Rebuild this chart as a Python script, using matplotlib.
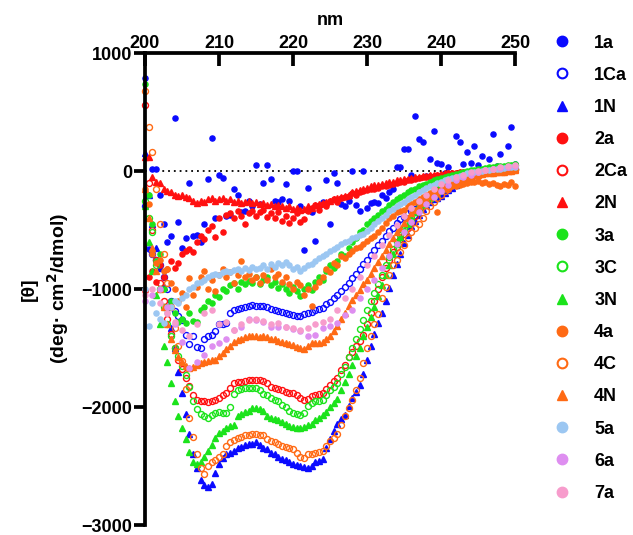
import numpy as np
import matplotlib
matplotlib.use("Agg")
import matplotlib.pyplot as plt
from matplotlib.lines import Line2D

plt.rcParams['font.family'] = ['Liberation Sans', 'DejaVu Sans']
plt.rcParams['font.weight'] = 'bold'

# wavelength grids (nm)
wl_half = np.arange(200, 250.01, 0.5)
wl_one = np.arange(200, 250.01, 1.0)

# ellipticity values, deg cm2/dmol
s_1a = [790, -660, 20, 20, -200, -450, -600, -550, 447, -430,
        -650, -570, -100, -550, -540, -600, -450, -68, 280, -400,
        -30, -60, -380, -370, -150, -200, -350, -340, -250, -300,
        50, -280, -100, 50, -70, -250, -260, -240, -110, -250,
        0, 0, -300, -670, -140, -350, -590, -300, -260, -80,
        -450, -20, -100, -280, -300, -250, 0, -290, -340, 0,
        -310, -270, -260, -270, -200, -230, -180, -150, 30, 30,
        190, 190, -30, 470, 270, 250, -40, 100, 340, 70,
        60, -20, 30, -30, 300, 250, 60, 160, 70, 210,
        50, 130, 20, 100, 310, 40, 140, 0, 210, 370, 60]
s_1Ca = [-300, -640, -700, -755, -800, -900, -1000, -1100, -1190, -1230,
         -1265, -1390, -1470, -1400, -1490, -1500, -1420, -1400, -1390, -1360,
         -1300, -1295, -1290, -1200, -1180, -1170, -1160, -1150, -1140, -1135,
         -1140, -1140, -1145, -1150, -1170, -1180, -1190, -1195, -1200, -1210,
         -1220, -1225, -1225, -1210, -1200, -1195, -1180, -1170, -1160, -1130,
         -1110, -1080, -1050, -1020, -980, -945, -910, -870, -830, -790,
         -750, -710, -670, -630, -590, -550, -510, -480, -440, -410,
         -390, -360, -340, -320, -300, -280, -260, -245, -225, -205,
         -185, -160, -140, -115, -95, -75, -55, -40, -25, -15,
         -5, 0, 5, 5, 10, 5, 10, 15, 10, 15, 20]
s_1N = [150, -200, -450, -650, -820, -980, -1150, -1330, -1500, -1700,
        -1880, -2060, -2230, -2400, -2520, -2620, -2660, -2680, -2650, -2560,
        -2480, -2430, -2400, -2390, -2370, -2350, -2340, -2320, -2310, -2310,
        -2300, -2320, -2350, -2360, -2390, -2400, -2420, -2440, -2450, -2470,
        -2480, -2490, -2500, -2510, -2520, -2500, -2470, -2460, -2440, -2350,
        -2270, -2200, -2140, -2100, -2070, -1990, -1920, -1870, -1810, -1720,
        -1600, -1480, -1380, -1290, -1200, -1100, -990, -880, -790, -700,
        -610, -540, -470, -420, -370, -320, -290, -260, -240, -225,
        -210, -190, -160, -140, -120, -90, -70, -55, -40, -30,
        -20, -15, -10, -5, 0, 5, 0, 10, 5, 10, 15]
s_2a = [-1020, -900, -850, -940, -800, -900, -830, -760, -820, -780,
        -700, -680, -660, -690, -600, -550, -580, -500, -470, -560,
        -400, -520, -370, -360, -400, -340, -380, -450, -360, -340,
        -380, -350, -330, -390, -360, -400, -350, -420, -380, -440,
        -400, -360, -430, -410, -340, -310, -290, -330, -280, -300,
        -250, -240, -260, -230, -220, -210, -190, -200, -180, -170,
        -160, -150, -150, -140, -130, -125, -120, -110, -100, -95,
        -90, -80, -75, -70, -60, -55, -50, -45, -40, -35,
        -30, -25, -20, -20, -15, -10, -10, -5, 0, 0,
        5, 0, 5, 10, 5, 10, 10, 5, 15, 10, 15]
s_2Ca = [560, -100, -500, -750, -950, -1100, -1250, -1380, -1500, -1600,
         -1680, -1750, -1820, -1900, -1940, -1950, -1950, -1960, -1950, -1940,
         -1920, -1900, -1880, -1840, -1800, -1790, -1790, -1780, -1770, -1770,
         -1770, -1775, -1780, -1800, -1830, -1840, -1850, -1860, -1870, -1880,
         -1880, -1900, -1920, -1940, -1930, -1910, -1900, -1890, -1880, -1850,
         -1810, -1780, -1750, -1690, -1640, -1580, -1530, -1480, -1440, -1390,
         -1300, -1200, -1100, -1000, -900, -820, -750, -690, -640, -580,
         -530, -480, -430, -380, -330, -290, -250, -220, -190, -160,
         -140, -120, -100, -85, -70, -55, -45, -35, -25, -15,
         -10, -5, 0, 5, 0, 10, 5, 15, 10, 20, 20]
s_2N = [120, 118, -50, -93, -100, -150, -170, -180, -200, -210,
        -200, -220, -230, -250, -270, -250, -260, -240, -230, -250,
        -240, -230, -250, -240, -260, -250, -270, -260, -250, -270,
        -260, -280, -270, -290, -280, -300, -290, -300, -310, -300,
        -320, -310, -330, -320, -300, -310, -290, -280, -270, -260,
        -250, -240, -230, -220, -210, -200, -180, -170, -160, -150,
        -140, -130, -120, -115, -110, -100, -95, -90, -80, -75,
        -70, -65, -60, -55, -50, -45, -40, -35, -30, -30,
        -25, -20, -20, -15, -15, -10, -10, -5, -5, 0,
        0, 5, 0, 5, 10, 5, 10, 15, 10, 15, 15]
s_3a = [735, -200, -450, -760, -700, -1000, -1150, -1100, -1200, -1280,
        -1250, -1290, -1200, -1270, -1280, -1180, -1150, -1100, -1120, -1050,
        -1070, -1000, -1020, -970, -950, -1000, -940, -960, -930, -950,
        -900, -960, -920, -900, -970, -940, -990, -960, -1000, -1030,
        -980, -1020, -1060, -1000, -970, -1010, -940, -900, -920, -850,
        -800, -820, -760, -700, -720, -650, -600, -570, -520, -500,
        -450, -420, -400, -370, -340, -320, -290, -260, -240, -220,
        -200, -180, -160, -150, -130, -120, -110, -90, -80, -70,
        -60, -50, -40, -30, -25, -15, -10, 0, 5, 10,
        15, 20, 25, 30, 35, 40, 45, 40, 50, 55, 60]
s_3C = [-250, -400, -520, -800, -1000, -1150, -1300, -1400, -1500, -1570,
        -1650, -1730, -1830, -1950, -2020, -2060, -2080, -2090, -2070, -2050,
        -2040, -2050, -2050, -2000, -1890, -1860, -1850, -1840, -1840, -1835,
        -1840, -1860, -1890, -1900, -1920, -1940, -1950, -1980, -2000, -2030,
        -2050, -2060, -2070, -2050, -1990, -1970, -1950, -1945, -1940, -1900,
        -1860, -1830, -1800, -1720, -1660, -1580, -1500, -1420, -1340, -1260,
        -1180, -1100, -1030, -960, -880, -800, -730, -660, -600, -540,
        -490, -440, -390, -350, -310, -270, -230, -200, -170, -150,
        -130, -110, -90, -75, -60, -45, -35, -25, -15, -10,
        0, 5, 10, 15, 20, 25, 30, 35, 40, 45, 50]
s_3N = [-300, -600, -850, -1050, -1300, -1480, -1620, -1800, -1950, -2080,
        -2180, -2270, -2380, -2470, -2480, -2470, -2420, -2370, -2320, -2260,
        -2220, -2200, -2180, -2160, -2150, -2080, -2060, -2040, -2030, -2010,
        -2010, -2020, -2030, -2080, -2090, -2100, -2110, -2130, -2140, -2160,
        -2170, -2175, -2180, -2170, -2150, -2140, -2110, -2090, -2070, -2040,
        -2000, -1970, -1930, -1860, -1790, -1720, -1640, -1570, -1500, -1400,
        -1320, -1240, -1150, -1060, -970, -880, -800, -700, -620, -560,
        -500, -450, -400, -350, -320, -290, -250, -230, -200, -180,
        -160, -140, -120, -100, -80, -60, -50, -40, -30, -20,
        -15, -10, -5, 0, 5, 10, 15, 20, 25, 30, 35]
s_4a = [-150, -280, -700, -780, -750, -850, -830, -950, -1000, -1100,
        -1030, -1150, -910, -1050, -980, -900, -845, -1000, -920, -1020,
        -880, -830, -900, -860, -950, -880, -760, -900, -870, -920,
        -900, -950, -880, -920, -830, -900, -870, -940, -900, -960,
        -1000, -940, -970, -1050, -1000, -1140, -980, -940, -900, -830,
        -860, -780, -800, -720, -740, -700, -680, -650, -640, -620,
        -590, -570, -550, -520, -480, -440, -400, -380, -350, -340,
        -330, -300, -280, -260, -240, -220, -200, -190, -170, -350,
        -160, -150, -140, -130, -125, -120, -110, -100, -95, -90,
        -85, -100, -90, -110, -100, -120, -130, -110, -120, -90, -130]
s_4C = [680, 370, 160, -150, -450, -700, -950, -1150, -1330, -1480,
        -1610, -1850, -2090, -2250, -2400, -2520, -2570, -2500, -2470, -2450,
        -2420, -2400, -2330, -2300, -2280, -2260, -2250, -2240, -2235, -2230,
        -2230, -2240, -2240, -2270, -2290, -2300, -2310, -2330, -2340, -2350,
        -2360, -2390, -2420, -2430, -2400, -2400, -2390, -2380, -2370, -2330,
        -2290, -2260, -2230, -2150, -2080, -2010, -1940, -1860, -1750, -1630,
        -1500, -1400, -1300, -1210, -1080, -980, -880, -800, -750, -690,
        -630, -570, -520, -480, -450, -400, -340, -300, -260, -230,
        -200, -170, -150, -120, -100, -80, -60, -50, -40, -35,
        -30, -25, -20, -10, -15, -5, 0, -5, 5, 0, 10]
s_4N = [-150, -400, -650, -850, -1000, -1150, -1300, -1420, -1520, -1580,
        -1620, -1650, -1670, -1660, -1640, -1625, -1615, -1610, -1605, -1600,
        -1570, -1540, -1510, -1480, -1450, -1430, -1420, -1410, -1400, -1395,
        -1400, -1405, -1400, -1410, -1420, -1425, -1440, -1450, -1460, -1470,
        -1475, -1490, -1500, -1510, -1480, -1460, -1460, -1455, -1450, -1420,
        -1400, -1360, -1310, -1250, -1200, -1140, -1090, -1050, -1010, -960,
        -920, -870, -820, -770, -720, -670, -620, -570, -520, -480,
        -440, -400, -360, -330, -300, -270, -240, -215, -190, -170,
        -150, -130, -115, -100, -85, -70, -60, -50, -40, -35,
        -30, -25, -20, -20, -15, -10, -10, -5, 0, 0, 5]
s_5a = [-1000, -1310, -1120, -1200, -1250, -1290, -1200, -1150, -1100, -1120,
        -1080, -1050, -1000, -980, -950, -940, -920, -900, -880, -870,
        -880, -860, -850, -860, -840, -830, -850, -820, -840, -810,
        -830, -820, -800, -830, -790, -810, -780, -800, -770, -800,
        -830, -810, -850, -820, -800, -790, -760, -740, -720, -700,
        -680, -660, -640, -620, -600, -590, -570, -560, -540, -530,
        -510, -480, -450, -420, -400, -370, -340, -320, -300, -280,
        -260, -240, -220, -200, -180, -160, -145, -130, -115, -100,
        -90, -80, -70, -60, -50, -40, -30, -20, -15, -10,
        -5, 0, 5, 10, 15, 20, 20, 25, 30, 30, 35]
s_6a = [-1100, -1050, -1000, -1150, -1300, -1450, -1670, -1620, -1560, -1480,
        -1460, -1420, -1350, -1320, -1250, -1260, -1280, -1320, -1325, -1325,
        -1340, -1360, -1400, -1390, -1330, -1310, -1290, -1220, -1180, -1080,
        -1000, -920, -820, -720, -620, -520, -430, -350, -280, -220,
        -170, -120, -80, -50, -30, -10, 5, 15, 25, 35, 45]
s_7a = [-1050, -1000, -1120, -1200, -1280, -1350, -1400, -1300, -1200, -1180,
        -1300, -1280, -1350, -1300, -1260, -1250, -1270, -1300, -1290, -1320,
        -1330, -1350, -1330, -1300, -1280, -1250, -1180, -1080, -1000, -900,
        -800, -720, -630, -540, -460, -380, -310, -250, -200, -150,
        -110, -80, -50, -30, -10, 0, 10, 20, 30, 40, 50]

BLUE = '#0a0aff'
RED = '#ff1010'
GREEN = '#1be31b'
ORANGE = '#ff6a14'
LBLUE = '#9cc7f2'
VIOLET = '#de8ef0'
PINK = '#f79ccc'

# (label, x, y, colour, marker, filled)
series = [
    ("1a", wl_half, s_1a, BLUE, 'o', True),
    ("1Ca", wl_half, s_1Ca, BLUE, 'o', False),
    ("1N", wl_half, s_1N, BLUE, '^', True),
    ("2a", wl_half, s_2a, RED, 'o', True),
    ("2Ca", wl_half, s_2Ca, RED, 'o', False),
    ("2N", wl_half, s_2N, RED, '^', True),
    ("3a", wl_half, s_3a, GREEN, 'o', True),
    ("3C", wl_half, s_3C, GREEN, 'o', False),
    ("3N", wl_half, s_3N, GREEN, '^', True),
    ("4a", wl_half, s_4a, ORANGE, 'o', True),
    ("4C", wl_half, s_4C, ORANGE, 'o', False),
    ("4N", wl_half, s_4N, ORANGE, '^', True),
    ("5a", wl_half, s_5a, LBLUE, 'o', True),
    ("6a", wl_one, s_6a, VIOLET, 'o', True),
    ("7a", wl_one, s_7a, PINK, 'o', True),
]

fig = plt.figure(figsize=(6.33, 5.35), dpi=100)
ax = fig.add_axes([145 / 633, 10 / 535, 370 / 633, 472 / 535])

ax.axhline(0, color='black', lw=1.3, ls=(0, (1, 2.2)), zorder=1)

handles = []
for name, x, y, col, mk, filled in series:
    if filled:
        ms = 4.0 if mk == '^' else 3.7
        ax.plot(x, y, ls='none', marker=mk, ms=ms, color=col, mec=col,
                clip_on=False, zorder=3)
        h = Line2D([], [], ls='none', marker=mk, ms=7.5, color=col, mec=col)
    else:
        ax.plot(x, y, ls='none', marker=mk, ms=4.3, mfc='none', mec=col,
                mew=1.0, clip_on=False, zorder=3)
        h = Line2D([], [], ls='none', marker=mk, ms=7, mfc='none', mec=col, mew=1.5)
    handles.append((h, name))

ax.set_xlim(200, 250)
ax.set_ylim(-3000, 1000)
ax.set_xticks([200, 210, 220, 230, 240, 250])
ax.set_yticks([-3000, -2000, -1000, 0, 1000])

ax.spines['right'].set_visible(False)
ax.spines['bottom'].set_visible(False)
for sp in ('left', 'top'):
    ax.spines[sp].set_linewidth(2.7)
    ax.spines[sp].set_zorder(4)

ax.xaxis.tick_top()
ax.xaxis.set_label_position('top')
ax.tick_params(axis='x', direction='in', length=9, width=2.7, labelsize=13, pad=1)
ax.tick_params(axis='y', direction='out', length=8, width=2.7, labelsize=13, pad=1)
for lab in ax.get_xticklabels() + ax.get_yticklabels():
    lab.set_fontweight('bold')

ax.set_xlabel('nm', fontsize=13, fontweight='bold', labelpad=7)
ax.set_ylabel('[θ]\n(deg· cm$^{\\mathbf{2}}$/dmol)', fontsize=14, fontweight='bold',
              labelpad=8, linespacing=1.35)

leg = fig.legend([h for h, _ in handles], [n for _, n in handles],
                 loc='upper left', bbox_to_anchor=(540 / 633, 1 - 22 / 535),
                 frameon=False, fontsize=13, handlelength=1.0, handletextpad=1.3,
                 labelspacing=0.84, borderpad=0.2)
for t in leg.get_texts():
    t.set_fontweight('bold')

fig.savefig('out.png', dpi=100)
